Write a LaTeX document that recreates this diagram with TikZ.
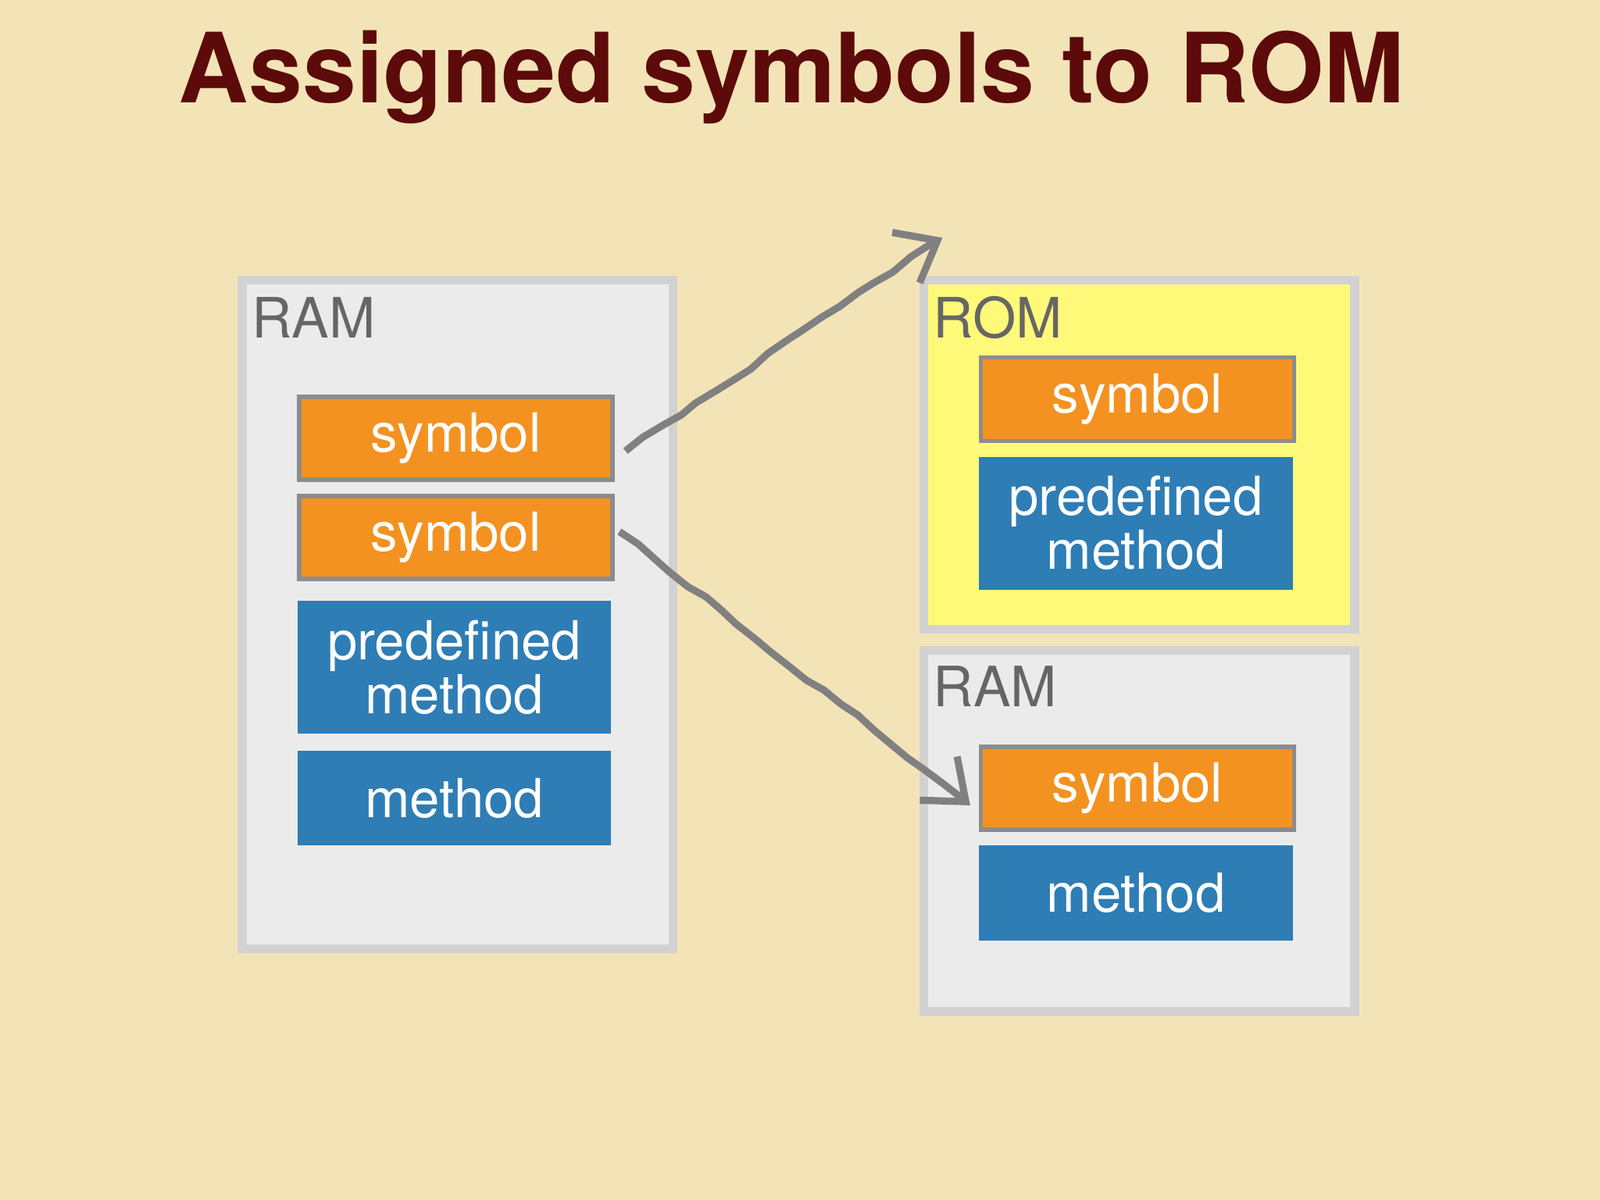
\documentclass[tikz,border=0pt]{standalone}
\usepackage{fontspec}
\setmainfont{TeX Gyre Heros}
\usetikzlibrary{arrows.meta,decorations.pathmorphing}
\definecolor{bg}{HTML}{F3E4B7}
\definecolor{ttl}{HTML}{5C0A0A}
\definecolor{org}{HTML}{F39220}
\definecolor{blu}{HTML}{2E7DB5}
\definecolor{ram}{HTML}{EBEBEB}
\definecolor{rom}{HTML}{FFF97A}
\definecolor{frm}{HTML}{D2D2D2}
\begin{document}
\begin{tikzpicture}[x=0.01cm,y=-0.01cm,
  mem/.style={draw=frm,line width=2.5pt,anchor=north west,inner sep=0pt},
  sym/.style={draw=gray!90,line width=1.2pt,fill=org,anchor=north west,inner sep=0pt,text=white,font=\fontsize{15}{17}\selectfont,text width=3.07cm,align=center},
  meth/.style={fill=blu,anchor=north west,inner sep=0pt,text=white,font=\fontsize{15}{17}\selectfont,text width=3.07cm,align=center},
  lbl/.style={anchor=west,text=black!60,font=\fontsize{15.5}{17}\selectfont,inner sep=0pt},
  arr/.style={draw=gray,line width=2pt,-{Straight Barb[length=10pt,width=16pt,line width=2pt]},decorate,decoration={random steps,segment length=6pt,amplitude=0.6pt}}]
\fill[bg] (0,0) rectangle (1568,1176);
\useasboundingbox (0,0) rectangle (1568,1176);
\node[font=\fontsize{27}{30}\bfseries\selectfont,text=ttl] (title) at (776,76) {Assigned symbols to ROM};
% left RAM
\node[mem,fill=ram,minimum width=4.22cm,minimum height=6.55cm] (ram1) at (233,270) {};
\node[lbl] (ram1l) at (246,311) {RAM};
\node[sym,minimum height=0.81cm] (s1) at (291,387) {symbol};
\node[sym,minimum height=0.81cm] (s2) at (291,484) {symbol};
\node[meth,minimum height=1.30cm] (p1) at (291,588) {predefined\\[-2pt]method};
\node[meth,minimum height=0.93cm] (m1) at (291,735) {method};
% ROM
\node[mem,fill=rom,minimum width=4.22cm,minimum height=3.42cm] (rom) at (901,270) {};
\node[lbl] (roml) at (914,311) {ROM};
\node[sym,minimum height=0.82cm] (s3) at (959,348) {symbol};
\node[meth,minimum height=1.30cm] (p2) at (959,447) {predefined\\[-2pt]method};
% RAM 2
\node[mem,fill=ram,minimum width=4.22cm,minimum height=3.54cm] (ram2) at (901,633) {};
\node[lbl] (ram2l) at (914,673) {RAM};
\node[sym,minimum height=0.81cm] (s4) at (959,730) {symbol};
\node[meth,minimum height=0.93cm] (m2) at (959,828) {method};
% arrows
\coordinate (a1) at (613,442);
\coordinate (a2) at (607,521);
\draw[arr] (a1) -- ([xshift=-10,yshift=45]s3.west);
\draw[arr] (a2) -- ([xshift=-2,yshift=-5]s4.west);
\end{tikzpicture}
\end{document}
